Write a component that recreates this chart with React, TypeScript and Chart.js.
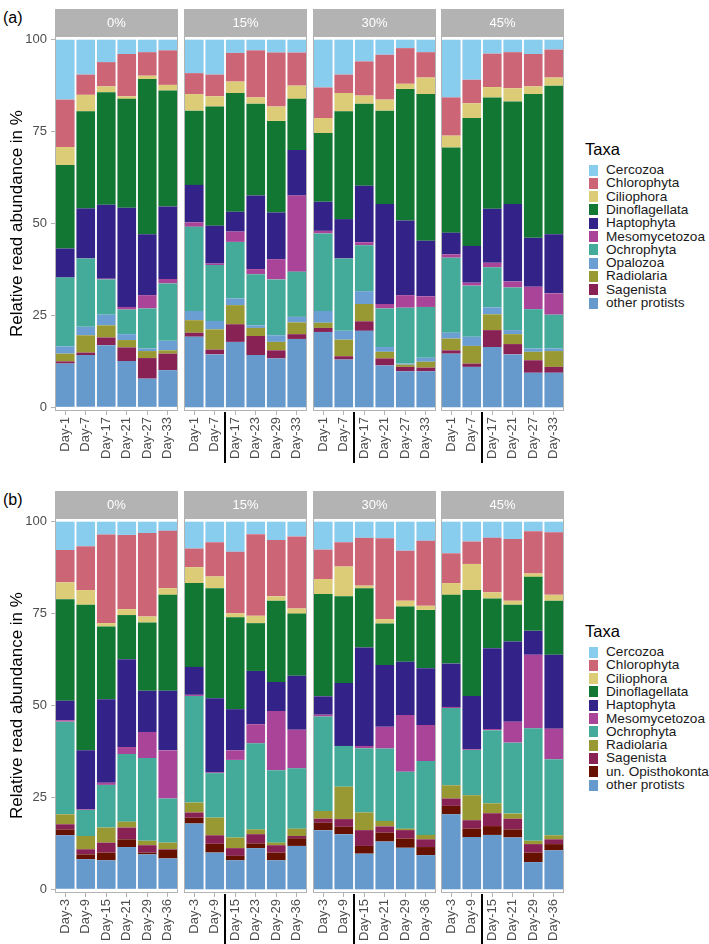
import React, { useEffect, useRef } from "react";
import { Chart, registerables } from "chart.js";

Chart.register(...registerables);

const FONT = '"Liberation Sans", Arial, Helvetica, sans-serif';
Chart.defaults.font.family = FONT;

// ---------- labels ----------
const facetLabels = ["0%", "15%", "30%", "45%"];
const yTicks = [0, 25, 50, 75, 100];
const yTitle = "Relative read abundance in %";

const daysA_0 = ["Day-1", "Day-7", "Day-17", "Day-21", "Day-27", "Day-33"];
const daysA_15 = ["Day-1", "Day-7", "Day-17", "Day-23", "Day-29", "Day-33"];
const daysA_30 = ["Day-1", "Day-7", "Day-17", "Day-21", "Day-27", "Day-33"];
const daysA_45 = ["Day-1", "Day-7", "Day-17", "Day-21", "Day-27", "Day-33"];

const daysB_0 = ["Day-3", "Day-9", "Day-15", "Day-21", "Day-29", "Day-36"];
const daysB_15 = ["Day-3", "Day-9", "Day-15", "Day-23", "Day-29", "Day-36"];
const daysB_30 = ["Day-3", "Day-9", "Day-15", "Day-21", "Day-29", "Day-36"];
const daysB_45 = ["Day-3", "Day-9", "Day-15", "Day-21", "Day-29", "Day-36"];

// ---------- panel (a) values: 24 per taxon (facets 0%,15%,30%,45% x 6 days) ----------
const A_other = [11.9, 14.2, 16.9, 12.6, 7.8, 10.1, 19.2, 14.4, 17.8, 14.2, 13.3, 18.6, 20.5, 13.0, 20.8, 11.4, 9.8, 9.8, 14.6, 11.0, 16.4, 14.4, 9.4, 9.4];
const A_sagenista = [0.6, 0.7, 2.1, 3.7, 5.6, 4.5, 1.1, 1.3, 4.8, 5.2, 2.2, 1.3, 1.1, 0.9, 2.6, 1.9, 1.2, 1.0, 0.9, 0.9, 4.6, 2.8, 3.4, 1.6];
const A_radiolaria = [2.1, 4.7, 3.3, 2.0, 1.9, 0.9, 3.4, 5.5, 5.2, 2.2, 2.3, 3.2, 1.4, 4.5, 4.7, 1.8, 0.6, 1.6, 3.2, 4.8, 4.3, 2.7, 2.3, 4.3];
const A_opalozoa = [2.0, 2.3, 2.9, 1.6, 0.7, 2.6, 2.5, 2.3, 1.8, 0.7, 1.8, 1.5, 3.2, 2.4, 3.5, 1.3, 0.3, 1.1, 1.6, 2.5, 1.9, 1.1, 0.9, 0.7];
const A_ochrophyta = [18.7, 18.6, 9.6, 6.7, 10.9, 15.6, 22.9, 15.2, 15.4, 13.9, 15.2, 12.3, 21.1, 19.7, 12.5, 10.5, 15.2, 13.8, 20.4, 13.9, 10.9, 11.6, 10.7, 9.2];
const A_mesomycetozoa = [0, 0, 0.2, 0.7, 3.6, 1.2, 1.2, 0.4, 2.8, 1.4, 5.5, 20.7, 0.7, 0, 0.8, 1.2, 3.4, 2.9, 0.9, 0.8, 1.2, 1.6, 6.1, 5.8];
const A_haptophyta = [7.9, 13.6, 20.1, 27.0, 16.6, 19.7, 10.2, 10.3, 5.4, 20.0, 12.7, 12.4, 7.9, 10.7, 15.4, 27.2, 20.3, 15.1, 5.9, 10.0, 14.7, 21.1, 13.3, 16.1];
const A_dinoflagellata = [22.7, 26.4, 30.6, 29.6, 42.2, 31.6, 20.2, 32.4, 32.3, 25.0, 24.9, 13.9, 18.7, 29.3, 22.3, 25.4, 35.8, 39.9, 23.2, 34.8, 30.3, 27.9, 39.1, 40.4];
const A_ciliophora = [4.9, 4.5, 1.6, 0.7, 0.9, 1.5, 4.5, 2.8, 3.1, 1.7, 3.9, 3.6, 4.1, 5.0, 2.2, 3.0, 1.4, 4.5, 3.2, 4.0, 2.8, 3.6, 2.1, 2.2];
const A_chlorophyta = [12.9, 5.5, 6.6, 11.5, 6.4, 9.4, 5.7, 5.9, 7.8, 12.8, 14.7, 9.0, 8.3, 5.0, 9.3, 12.2, 9.7, 6.9, 10.4, 6.4, 9.1, 9.8, 8.8, 7.6];
const A_cercozoa = [16.3, 9.5, 6.1, 3.9, 3.4, 2.9, 9.1, 9.5, 3.6, 2.9, 3.5, 3.5, 13.0, 9.5, 5.9, 4.1, 2.3, 3.4, 15.7, 10.9, 3.8, 3.4, 3.9, 2.7];

// ---------- panel (b) values ----------
const B_other = [14.7, 8.2, 7.9, 11.5, 9.5, 8.4, 17.9, 10.0, 7.9, 11.2, 7.9, 11.8, 16.1, 15.0, 9.7, 13.0, 11.3, 9.3, 20.4, 14.2, 14.8, 14.1, 7.4, 10.6];
const B_opisthokonta = [1.6, 1.3, 2.1, 2.1, 0.5, 2.3, 1.6, 2.4, 1.2, 1.3, 2.1, 2.1, 2.0, 2.0, 2.1, 2.4, 2.5, 2.2, 2.3, 2.3, 2.4, 2.2, 2.6, 1.7];
const B_sagenista = [1.4, 1.4, 2.7, 3.2, 2.0, 0.2, 1.4, 2.3, 2.1, 2.5, 2.0, 0.6, 1.1, 2.1, 4.3, 1.7, 2.3, 2.1, 2.0, 2.3, 3.5, 2.9, 2.3, 1.3];
const B_radiolaria = [2.7, 3.6, 4.1, 1.6, 1.2, 1.8, 2.7, 4.8, 2.9, 1.3, 0.7, 2.0, 2.1, 8.8, 4.8, 1.5, 0.4, 1.2, 3.6, 6.8, 2.7, 1.4, 0.9, 1.1];
const B_ochrophyta = [25.2, 7.1, 11.6, 18.4, 22.5, 12.0, 29.0, 12.1, 21.1, 23.4, 19.7, 16.4, 25.7, 11.1, 17.5, 19.7, 15.5, 20.1, 21.0, 12.3, 19.9, 19.3, 30.6, 20.7];
const B_mesomycetozoa = [0.4, 0.2, 0.6, 1.9, 7.1, 13.1, 0.3, 0.2, 2.6, 5.2, 16.1, 10.5, 0.5, 0, 0.6, 5.9, 15.4, 9.8, 0.3, 0.2, 0.3, 5.7, 20.0, 8.3];
const B_haptophyta = [5.3, 16.0, 22.7, 23.9, 11.2, 16.2, 7.6, 20.2, 11.2, 14.5, 7.9, 14.7, 5.0, 17.1, 26.8, 16.8, 14.5, 15.4, 11.8, 14.5, 22.0, 21.8, 6.5, 20.1];
const B_dinoflagellata = [27.6, 39.6, 19.8, 12.0, 18.6, 26.1, 22.8, 29.9, 25.0, 13.0, 22.1, 16.9, 27.8, 23.6, 16.1, 11.3, 15.0, 15.9, 18.7, 28.8, 13.5, 10.0, 14.7, 14.7];
const B_ciliophora = [4.6, 4.0, 0.9, 1.6, 1.6, 1.8, 4.3, 3.2, 1.1, 2.0, 1.2, 1.4, 4.1, 8.1, 0.7, 1.2, 1.6, 1.1, 3.2, 7.1, 1.7, 1.1, 0.9, 1.6];
const B_chlorophyta = [8.8, 11.9, 24.1, 20.2, 22.7, 15.6, 5.1, 9.3, 16.7, 22.2, 15.3, 19.6, 8.0, 6.6, 13.0, 22.0, 13.6, 17.7, 8.1, 6.1, 14.8, 16.8, 11.5, 17.0];
const B_cercozoa = [7.7, 6.7, 3.5, 3.6, 3.1, 2.5, 7.3, 5.6, 8.2, 3.4, 5.0, 4.0, 7.6, 5.6, 4.4, 4.5, 7.9, 5.2, 8.6, 5.4, 4.4, 4.7, 2.6, 2.9];

// ---------- colours ----------
const taxonColors: Record<string, string> = {
  Cercozoa: "#88CCEE",
  Chlorophyta: "#CC6677",
  Ciliophora: "#DDCC77",
  Dinoflagellata: "#117733",
  Haptophyta: "#332288",
  Mesomycetozoa: "#AA4499",
  Ochrophyta: "#44AA99",
  Opalozoa: "#6B9FD3",
  Radiolaria: "#999933",
  Sagenista: "#882255",
  "un. Opisthokonta": "#661100",
  "other protists": "#6699CC",
};

// stacking order bottom -> top
const seriesA: [string, number[]][] = [
  ["other protists", A_other],
  ["Sagenista", A_sagenista],
  ["Radiolaria", A_radiolaria],
  ["Opalozoa", A_opalozoa],
  ["Ochrophyta", A_ochrophyta],
  ["Mesomycetozoa", A_mesomycetozoa],
  ["Haptophyta", A_haptophyta],
  ["Dinoflagellata", A_dinoflagellata],
  ["Ciliophora", A_ciliophora],
  ["Chlorophyta", A_chlorophyta],
  ["Cercozoa", A_cercozoa],
];
const seriesB: [string, number[]][] = [
  ["other protists", B_other],
  ["un. Opisthokonta", B_opisthokonta],
  ["Sagenista", B_sagenista],
  ["Radiolaria", B_radiolaria],
  ["Ochrophyta", B_ochrophyta],
  ["Mesomycetozoa", B_mesomycetozoa],
  ["Haptophyta", B_haptophyta],
  ["Dinoflagellata", B_dinoflagellata],
  ["Ciliophora", B_ciliophora],
  ["Chlorophyta", B_chlorophyta],
  ["Cercozoa", B_cercozoa],
];

// ---------- layout ----------
const STRIP_H = 27;
const PLOT_H = 375;
const XAXIS_H = 52;
const YAXIS_W = 55;
const PANEL_W = 123;
const panelLefts = [55, 184, 313, 441];

const facetPlugin = {
  id: "facet",
  afterDraw(chart: any, _args: any, opts: any) {
    const { ctx, chartArea: ca } = chart;
    ctx.save();
    // strip
    ctx.fillStyle = "#B3B3B3";
    ctx.fillRect(ca.left, 0, ca.right - ca.left, STRIP_H);
    ctx.fillStyle = "#FFFFFF";
    ctx.font = `13px ${FONT}`;
    ctx.textAlign = "center";
    ctx.textBaseline = "middle";
    ctx.fillText(opts.label, (ca.left + ca.right) / 2, STRIP_H / 2 + 1);
    // panel border
    ctx.strokeStyle = "#B3B3B3";
    ctx.lineWidth = 1;
    ctx.strokeRect(ca.left + 0.5, ca.top + 0.5, ca.right - ca.left - 1, ca.bottom - ca.top - 1);
    // separator mark below axis
    if (opts.sep) {
      const xs = chart.scales.x;
      const x = (xs.getPixelForValue(1) + xs.getPixelForValue(2)) / 2;
      ctx.fillStyle = "#000000";
      ctx.fillRect(Math.round(x) - 1, ca.bottom + 1, 2, chart.height - ca.bottom);
    }
    ctx.restore();
  },
};

function Facet(props: { top: number; index: number; labels: string[]; series: [string, number[]][] }) {
  const { top, index, labels, series } = props;
  const ref = useRef<HTMLCanvasElement>(null);
  const first = index === 0;
  const left = first ? 0 : panelLefts[index];
  const width = PANEL_W + (first ? YAXIS_W : 0);
  const height = STRIP_H + PLOT_H + XAXIS_H;

  useEffect(() => {
    const chart = new Chart(ref.current as HTMLCanvasElement, {
      type: "bar",
      data: {
        labels,
        datasets: series.map(([name, vals]) => ({
          label: name,
          data: vals.slice(index * 6, index * 6 + 6),
          backgroundColor: taxonColors[name],
          borderWidth: 0,
          barPercentage: 0.91,
          categoryPercentage: 1,
        })),
      },
      options: {
        responsive: false,
        animation: false,
        devicePixelRatio: 1,
        layout: { padding: { top: STRIP_H, left: 0, right: 0, bottom: 0 } },
        plugins: {
          legend: { display: false },
          tooltip: { enabled: false },
          facet: { label: facetLabels[index], sep: index > 0 },
        } as any,
        scales: {
          x: {
            stacked: true,
            offset: true,
            grid: { display: true, drawOnChartArea: false, drawTicks: true, tickLength: 4, color: "#B3B3B3", offset: false },
            border: { display: false },
            ticks: {
              autoSkip: false,
              maxRotation: 90,
              minRotation: 90,
              padding: 2,
              color: "#4D4D4D",
              font: { family: FONT, size: 13 },
            },
            afterFit: (s: any) => {
              s.height = XAXIS_H;
              s.paddingLeft = 0;
              s.paddingRight = 0;
            },
          },
          y: {
            stacked: true,
            min: -1,
            max: 101,
            display: first,
            afterBuildTicks: (s: any) => {
              s.ticks = yTicks.map((v) => ({ value: v }));
            },
            grid: { display: true, drawOnChartArea: false, drawTicks: true, tickLength: 4, color: "#B3B3B3" },
            border: { display: false },
            ticks: { padding: 4, color: "#4D4D4D", font: { family: FONT, size: 13 } },
            title: {
              display: true,
              text: yTitle,
              color: "#000000",
              font: { family: FONT, size: 17 },
              padding: { top: 7, bottom: 0 },
            },
            afterFit: (s: any) => {
              if (first) s.width = YAXIS_W;
              s.paddingTop = 0;
              s.paddingBottom = 0;
            },
          },
        },
      } as any,
      plugins: [facetPlugin],
    });
    return () => chart.destroy();
  }, []);

  return (
    <canvas
      ref={ref}
      width={width}
      height={height}
      style={{ position: "absolute", left, top, width, height }}
    />
  );
}

function Legend(props: { top: number; names: string[] }) {
  const { top, names } = props;
  const step = 13.3;
  const firstCenter = top + 21;
  return (
    <>
      <div style={{ position: "absolute", left: 585, top: top - 9, font: `16.5px ${FONT}`, lineHeight: "18px", color: "#000" }}>
        Taxa
      </div>
      {names.map((n, i) => {
        const cy = firstCenter + i * step;
        return (
          <React.Fragment key={n}>
            <div style={{ position: "absolute", left: 589, top: cy - 5.5, width: 9, height: 11, background: taxonColors[n] }} />
            <div style={{ position: "absolute", left: 606, top: cy - 8, font: `13.6px ${FONT}`, lineHeight: "16px", color: "#1A1A1A", whiteSpace: "nowrap" }}>
              {n}
            </div>
          </React.Fragment>
        );
      })}
    </>
  );
}

export default function App() {
  const topA = 9;
  const topB = 491;
  const daysA = [daysA_0, daysA_15, daysA_30, daysA_45];
  const daysB = [daysB_0, daysB_15, daysB_30, daysB_45];
  const legendA = seriesA.map((s) => s[0]).reverse();
  const legendB = seriesB.map((s) => s[0]).reverse();
  return (
    <div style={{ position: "absolute", left: 0, top: 0, width: 709, height: 944, background: "#fff", overflow: "hidden", fontFamily: FONT }}>
      <div style={{ position: "absolute", left: 3, top: topA + 1, font: `16px ${FONT}`, lineHeight: "16px" }}>(a)</div>
      <div style={{ position: "absolute", left: 3, top: topB + 1, font: `16px ${FONT}`, lineHeight: "16px" }}>(b)</div>
      {daysA.map((d, i) => (
        <Facet key={"a" + i} top={topA} index={i} labels={d} series={seriesA} />
      ))}
      {daysB.map((d, i) => (
        <Facet key={"b" + i} top={topB} index={i} labels={d} series={seriesB} />
      ))}
      <Legend top={149} names={legendA} />
      <Legend top={631} names={legendB} />
    </div>
  );
}
